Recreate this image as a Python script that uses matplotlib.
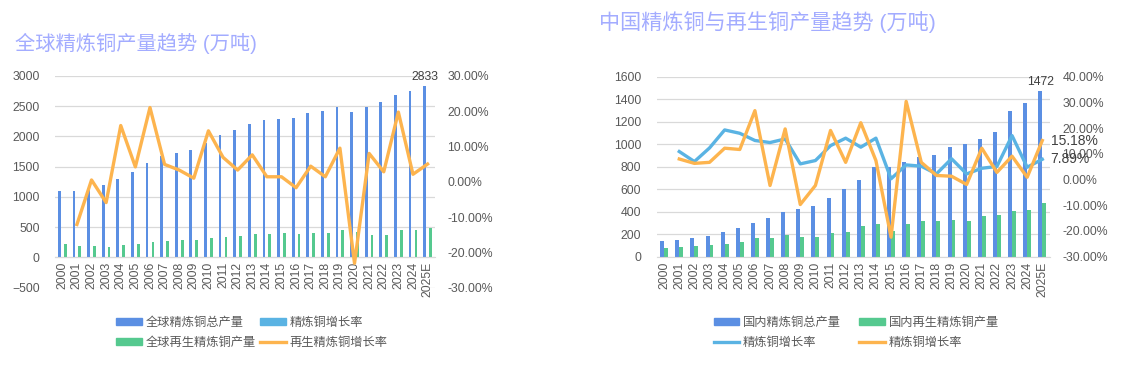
import matplotlib.pyplot as plt
from matplotlib.patches import Patch
from matplotlib.lines import Line2D
import numpy as np

plt.rcParams['font.family'] = ['Liberation Sans', 'Noto Sans CJK SC']

years = ['2000', '2001', '2002', '2003', '2004', '2005', '2006', '2007', '2008',
         '2009', '2010', '2011', '2012', '2013', '2014', '2015', '2016', '2017',
         '2018', '2019', '2020', '2021', '2022', '2023', '2024', '2025E']

# global (万吨)
global_total = [1100, 1100, 1120, 1190, 1300, 1415, 1560, 1670, 1730, 1780, 1890,
                2020, 2100, 2200, 2265, 2290, 2300, 2380, 2420, 2490, 2400, 2490,
                2560, 2680, 2740, 2833]
global_recycled = [220, 190, 190, 180, 210, 215, 260, 275, 280, 280, 320, 340,
                   355, 385, 390, 396, 385, 396, 407, 446, 420, 363, 374, 446,
                   457, 479]
global_recycled_growth = [None, -12.1, 0.5, -5.9, 15.9, 4.2, 21.0, 4.9, 3.3, 1.0,
                          14.4, 6.9, 3.3, 7.6, 1.4, 1.4, -1.7, 4.4, 1.4, 9.5,
                          -23.1, 8.0, 2.8, 19.7, 2.1, 5.0]

# China (万吨)
cn_total = [137, 148, 163, 180, 217, 258, 300, 345, 398, 421, 455, 518, 602,
            684, 795, 796, 842, 888, 904, 978, 1002, 1049, 1106, 1299, 1364, 1472]
cn_recycled = [80, 89, 98, 104, 116, 130, 166, 163, 196, 175, 172, 208, 219,
               273, 290, 225, 295, 314, 320, 326, 320, 362, 374, 406, 415, 474]
cn_growth = [None, 10.9, 7.0, 12.3, 19.3, 18.0, 15.2, 14.4, 15.8, 6.1, 7.4, 13.2,
             16.1, 12.6, 16.1, 0.3, 5.7, 5.2, 2.2, 8.1, 2.2, 4.4, 5.1, 17.1, 4.8,
             7.89]
cn_growth2 = [None, 8.0, 6.3, 6.7, 12.2, 11.7, 26.8, -2.3, 19.7, -9.7, -2.3, 19.1,
              6.7, 22.1, 7.4, -22.4, 30.4, 6.7, 1.6, 1.3, -1.9, 12.2, 2.8, 9.1,
              0.9, 15.18]

BLUE = '#5b8fe3'
GREEN = '#55c98f'
LBLUE = '#5ab3e3'
ORANGE = '#fdb44e'
TXT = '#595959'
GRID = '#d9d9d9'
TITLE = '#a3acff'


def to_float(vals):
    return np.array([np.nan if v is None else v for v in vals], dtype=float)


def style(ax, ax2):
    for a in (ax, ax2):
        for s in a.spines.values():
            s.set_visible(False)
        a.tick_params(length=0, colors=TXT, labelsize=8.8)
    ax.tick_params(axis='y', pad=11)
    ax.grid(axis='y', color=GRID, lw=0.9)
    ax.set_axisbelow(True)
    ax2.yaxis.set_major_formatter(lambda v, p: f'{v:.2f}%')
    ax.set_xticks(np.arange(len(years)))
    ax.set_xticklabels(years)
    ax.set_xlim(-0.5, len(years) - 0.5)


fig = plt.figure(figsize=(11.34, 3.69), dpi=100)
x = np.arange(len(years))

# ---- left chart
ax = fig.add_axes([0.0485, 0.2203, 0.335, 0.5745])
ax2 = ax.twinx()
style(ax, ax2)
ax.bar(x - 0.2, global_total, width=0.19, color=BLUE)
ax.bar(x + 0.2, global_recycled, width=0.19, color=GREEN)
ax.set_ylim(-500, 3000)
ax.set_yticks(np.arange(-500, 3001, 500))
ax.spines['bottom'].set_visible(True)
ax.spines['bottom'].set_position(('data', 0))
ax.spines['bottom'].set_color(GRID)
ax.tick_params(axis='x', length=0, colors=TXT, labelsize=8.8, pad=3,
               labelrotation=90)
ax2.plot(x, to_float(global_recycled_growth), color=ORANGE, lw=2.4, zorder=3)
ax2.set_ylim(-30, 30)
ax2.set_yticks(np.arange(-30, 31, 10))
ax2.tick_params(axis='y', pad=9)
ax.text(x[-1] - 0.2, global_total[-1] + 40, '2833', ha='center', va='bottom',
        fontsize=8.8, color='#404040')
fig.text(0.013, 0.883, '全球精炼铜产量趋势 (万吨)', fontsize=14.6, color=TITLE,
         va='center')
fig.legend(handles=[Patch(color=BLUE), Patch(color=GREEN), Patch(color=LBLUE),
                    Line2D([], [], color=ORANGE, lw=2.4)],
           labels=['全球精炼铜总产量', '全球再生精炼铜产量', '精炼铜增长率', '再生精炼铜增长率'],
           ncol=2, loc='upper center', bbox_to_anchor=(0.222, 0.172),
           frameon=False, fontsize=8.8, handlelength=2.1, handleheight=0.5,
           columnspacing=0.4, handletextpad=0.3, labelspacing=0.7,
           labelcolor=TXT)

# ---- right chart
bx = fig.add_axes([0.579, 0.3043, 0.3468, 0.4878])
bx2 = bx.twinx()
style(bx, bx2)
bx.tick_params(axis='x', labelrotation=90)
bx.bar(x - 0.13, cn_total, width=0.26, color=BLUE)
bx.bar(x + 0.13, cn_recycled, width=0.26, color=GREEN)
bx.set_ylim(0, 1600)
bx.set_yticks(np.arange(0, 1601, 200))
bx.spines['bottom'].set_visible(True)
bx.spines['bottom'].set_color(GRID)
bx2.plot(x, to_float(cn_growth), color=LBLUE, lw=2.4, zorder=3)
bx2.plot(x, to_float(cn_growth2), color=ORANGE, lw=2.4, zorder=3)
bx2.set_ylim(-30, 40)
bx2.set_yticks(np.arange(-30, 41, 10))
bx2.tick_params(axis='y', pad=9)
bx.text(x[-1] - 0.13, cn_total[-1] + 30, '1472', ha='center', va='bottom',
        fontsize=8.8, color='#404040')
bx2.annotate(f'{cn_growth2[-1]:.2f}%', (x[-1], cn_growth2[-1]), xytext=(6, 0),
             textcoords='offset points', va='center', fontsize=10, color='#404040')
bx2.annotate(f'{cn_growth[-1]:.2f}%', (x[-1], cn_growth[-1]), xytext=(6, 0),
             textcoords='offset points', va='center', fontsize=10, color='#404040')
fig.text(0.528, 0.94, '中国精炼铜与再生铜产量趋势 (万吨)', fontsize=15.2,
         color=TITLE, va='center')
fig.legend(handles=[Patch(color=BLUE), Line2D([], [], color=LBLUE, lw=2.4),
                    Patch(color=GREEN), Line2D([], [], color=ORANGE, lw=2.4)],
           labels=['国内精炼铜总产量', '精炼铜增长率', '国内再生精炼铜产量', '精炼铜增长率'],
           ncol=2, loc='upper center', bbox_to_anchor=(0.755, 0.172),
           frameon=False, fontsize=8.8, handlelength=2.1, handleheight=0.5,
           columnspacing=1.5, handletextpad=0.3, labelspacing=0.7,
           labelcolor=TXT)

fig.savefig('out.png', dpi=100)
